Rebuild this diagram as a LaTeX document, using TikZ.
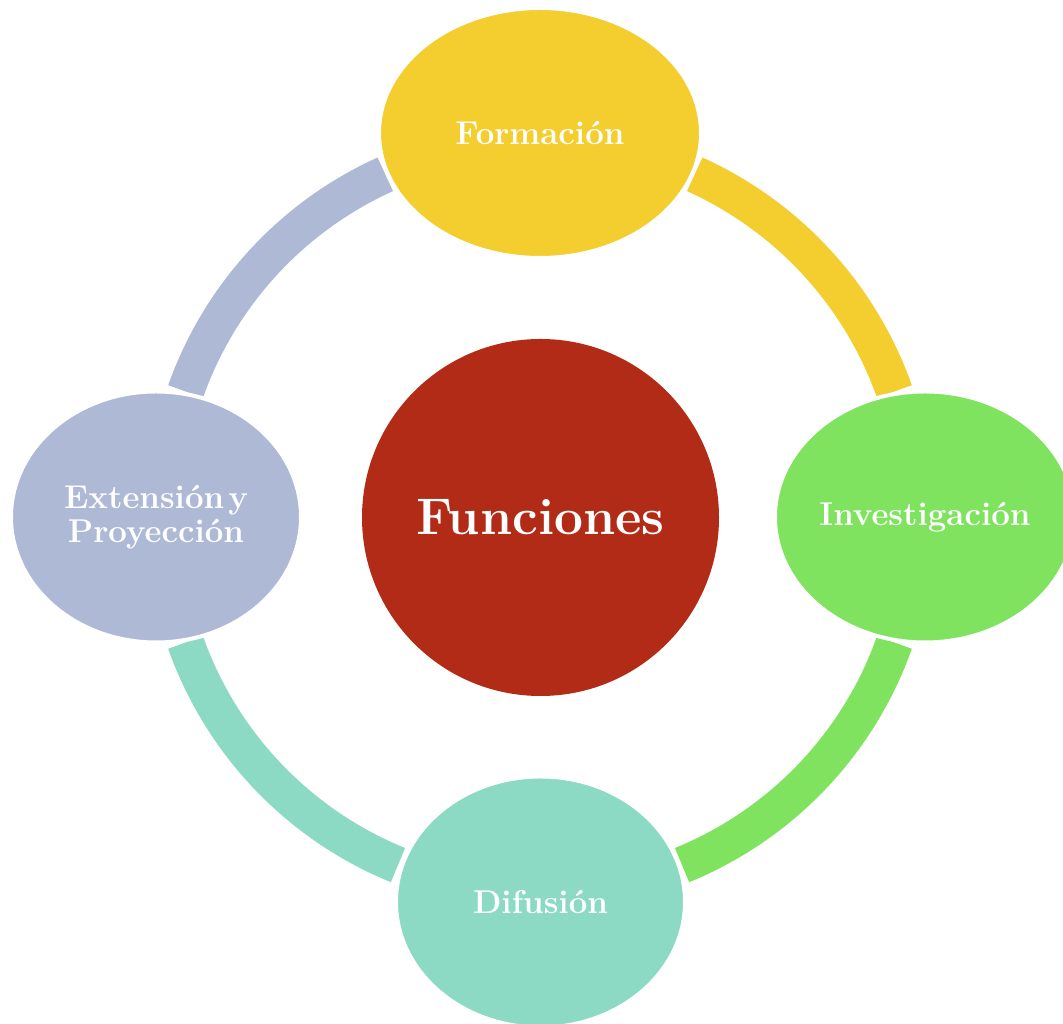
\documentclass[tikz,border=0pt]{standalone}
\usepackage{fontspec}
\usetikzlibrary{shapes.geometric}
\definecolor{cyel}{HTML}{F4CD2F}
\definecolor{cgrn}{HTML}{7FE35F}
\definecolor{cteal}{HTML}{8CD9C4}
\definecolor{clav}{HTML}{AEB9D6}
\definecolor{cred}{HTML}{B22B16}
\tikzset{
  petal/.style={ellipse, draw=white, line width=4pt, inner sep=0pt, text=white,
    font=\fontsize{33}{34}\selectfont\bfseries\addfontfeature{LetterSpace=3.5}, align=center},
  hub/.style={circle, fill=cred, inner sep=0pt, minimum size=357pt, text=white,
    font=\fontsize{51.5}{54}\selectfont\bfseries\addfontfeature{LetterSpace=3}},
  ring/.style={line width=37pt, line cap=butt}
}
\begin{document}
\begin{tikzpicture}[x=1pt,y=1pt]
\useasboundingbox (0,0) rectangle (1063,1024);
\clip (0,0) rectangle (1063,1024);
\coordinate (O) at (540,507);
% ring segments
\draw[ring, cyel] ([shift={(65.7:376)}]O) arc (65.7:19.5:376);
\draw[ring, cgrn] ([shift={(-19.5:376)}]O) arc (-19.5:-67.8:376);
\draw[ring, cteal] ([shift={(247.8:376)}]O) arc (247.8:199.5:376);
\draw[ring, clav] ([shift={(160.5:376)}]O) arc (160.5:114.3:376);
% hub
\node[hub] (hub) at (540.5,506.5) {Funciones};
% petals
\node[petal, fill=cyel, minimum width=322pt, minimum height=250pt] (form) at (540,891) {Formación};
\node[petal, fill=cgrn, minimum width=300pt, minimum height=251pt] (inv) at (925,507) {Investigación};
\node[petal, fill=cteal, minimum width=289pt, minimum height=251pt] (dif) at (540.5,122) {Difusión};
\node[petal, fill=clav, minimum width=290pt, minimum height=251pt] (ext) at (156,507) {Extensión\hspace{4pt}y\\Proyección};
\end{tikzpicture}
\end{document}
